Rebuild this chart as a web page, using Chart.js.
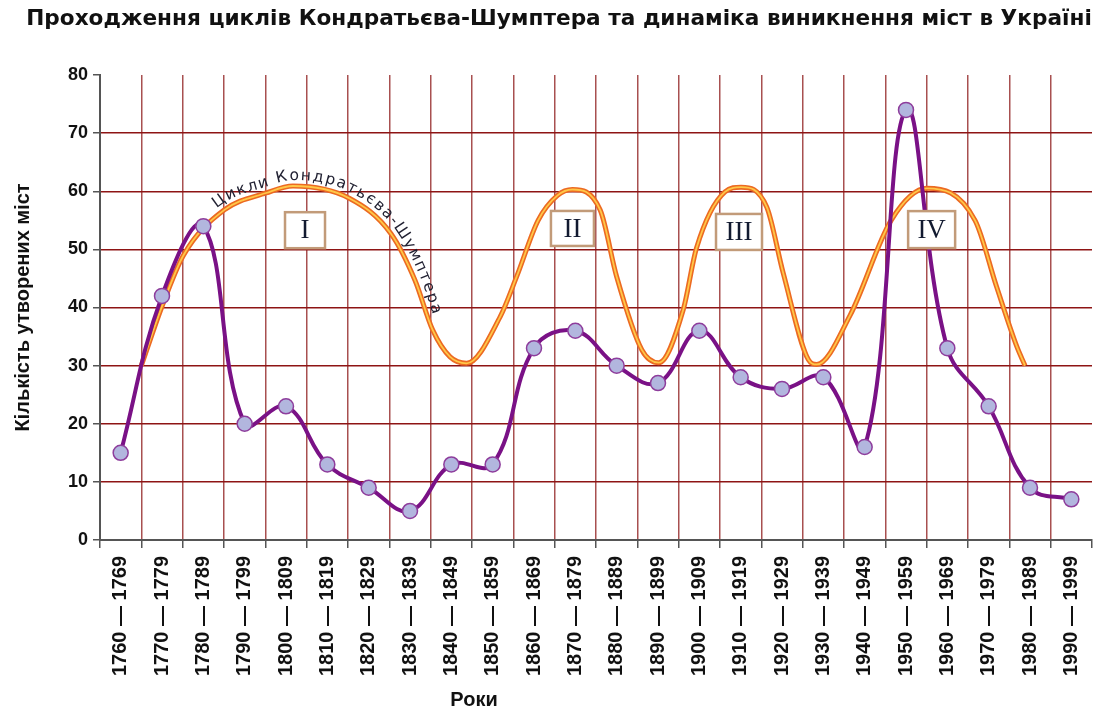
<!DOCTYPE html>
<html>
<head>
<meta charset="utf-8">
<script src="https://cdn.jsdelivr.net/npm/chart.js@4.4.1/dist/chart.umd.min.js"></script>
<style>
html,body{margin:0;padding:0;background:#fff;}
#wrap{width:1110px;height:713px;position:relative;}
</style>
</head>
<body>
<div id="wrap"><canvas id="c" width="1110" height="713"></canvas></div>
<script>
// ---------- DATA ----------
const periods = ['1760 — 1769','1770 — 1779','1780 — 1789','1790 — 1799','1800 — 1809','1810 — 1819',
  '1820 — 1829','1830 — 1839','1840 — 1849','1850 — 1859','1860 — 1869','1870 — 1879',
  '1880 — 1889','1890 — 1899','1900 — 1909','1910 — 1919','1920 — 1929','1930 — 1939',
  '1940 — 1949','1950 — 1959','1960 — 1969','1970 — 1979','1980 — 1989','1990 — 1999'];
const cityCounts = [15,42,54,20,23,13,9,5,13,13,33,36,30,27,36,28,26,28,16,74,33,23,9,7];

// Kondratiev–Schumpeter cycle curve (year, value)
const cycleYears  = [1770,1774.9,1780.2,1790.1,1800.2,1806.7,1820.3,1830.4,1836.2,1840.5,1844.7,1848.7,
  1856.8,1860.8,1866.0,1870.7,1874.3,1881.0,1885.0,1891.1,1895.2,1901.1,1904.3,1911.2,1915.1,
  1921.3,1925.3,1931.4,1933.4,1941.5,1951.4,1960.0,1971.7,1976.9,1981.8,1983.8];
const cycleValues = [30,40,49,56.8,59.7,60.9,58.8,52.7,44.7,36.1,31.5,30.4,
  38.4,45.3,55,59.3,60.3,56.8,45.3,32.7,30.5,39.6,50.2,59.9,60.7,
  57.3,45.9,31,30.2,38.7,55,60.5,55,43.6,33.3,30];

const yTickValues = [0,10,20,30,40,50,60,70,80];
const cycleNames = ['I','II','III','IV'];
const cycleBoxYears = [1809.6,1874.3,1914.6,1961.2];
const cycleBoxValues = [53.3,53.6,53.0,53.4];

const titleText = 'Проходження циклів Кондратьєва-Шумптера та динаміка виникнення міст в Україні';
const yTitle = 'Кількість утворених міст';
const xTitle = 'Роки';
const arcText = 'Цикли Кондратьєва-Шумптера';

// ---------- HELPERS ----------
const cycleData = cycleYears.map((x,i)=>({x:x, y:cycleValues[i]}));

// fit title width
const mc = document.createElement('canvas').getContext('2d');
mc.font = 'bold 20px "DejaVu Sans"';
const titleSize = Math.min(23, 20*1066/mc.measureText(titleText).width);

const overlay = {
  id:'overlay',
  afterLayout(chart){
    if (chart.titleBlock){ chart.titleBlock.left += 13; chart.titleBlock.right += 13; }
  },
  afterDatasetsDraw(chart){
    const ctx = chart.ctx;
    const xs = chart.scales.x2, ys = chart.scales.y;
    // ---- curved text along cycle I ----
    const pts = chart.getDatasetMeta(2).data;
    const poly = [];
    for (let i=0;i<pts.length-1;i++){
      const a=pts[i], b=pts[i+1];
      const c1x=a.cp2x??a.x, c1y=a.cp2y??a.y, c2x=b.cp1x??b.x, c2y=b.cp1y??b.y;
      for (let k=0;k<20;k++){
        const t=k/20, m=1-t;
        poly.push({x:m*m*m*a.x+3*m*m*t*c1x+3*m*t*t*c2x+t*t*t*b.x,
                   y:m*m*m*a.y+3*m*m*t*c1y+3*m*t*t*c2y+t*t*t*b.y});
      }
    }
    poly.push({x:pts[pts.length-1].x,y:pts[pts.length-1].y});
    const d = 6;
    const off = poly.map((p,i)=>{
      const p0=poly[Math.max(0,i-1)], p1=poly[Math.min(poly.length-1,i+1)];
      let tx=p1.x-p0.x, ty=p1.y-p0.y; const L=Math.hypot(tx,ty)||1; tx/=L; ty/=L;
      return {x:p.x+d*ty, y:p.y-d*tx};
    });
    const cum=[0];
    for (let i=1;i<off.length;i++) cum.push(cum[i-1]+Math.hypot(off[i].x-off[i-1].x, off[i].y-off[i-1].y));
    let iS=off.findIndex(p=>p.x>=215);
    let peakI=iS; for(let i=iS;i<off.length && off[i].x<480;i++){ if(off[i].y<off[peakI].y) peakI=i; }
    let iE=peakI; while(iE<off.length-1 && off[iE].y<314) iE++;
    const sS=cum[iS], sE=cum[iE];
    ctx.save();
    ctx.font='15.5px "DejaVu Sans"';
    ctx.fillStyle='#222233';
    ctx.textAlign='center'; ctx.textBaseline='alphabetic';
    const chars=[...arcText];
    const ws=chars.map(c=>ctx.measureText(c).width);
    const tot=ws.reduce((a,b)=>a+b,0);
    const sp=(sE-sS-tot)/(chars.length-1);
    const at=(s)=>{
      let j=1; while(j<cum.length-1 && cum[j]<s) j++;
      const f=(s-cum[j-1])/((cum[j]-cum[j-1])||1);
      return {x:off[j-1].x+f*(off[j].x-off[j-1].x), y:off[j-1].y+f*(off[j].y-off[j-1].y),
              a:Math.atan2(off[j].y-off[j-1].y, off[j].x-off[j-1].x)};
    };
    let s=sS;
    chars.forEach((c,i)=>{
      const p=at(s+ws[i]/2);
      ctx.save(); ctx.translate(p.x,p.y); ctx.rotate(p.a); ctx.fillText(c,0,0); ctx.restore();
      s+=ws[i]+sp;
    });
    ctx.restore();
    // ---- boxes ----
    const bw=[40,43,46,47], bh=[36,35,36,37];
    ctx.save();
    cycleNames.forEach((n,i)=>{
      const cx=xs.getPixelForValue(cycleBoxYears[i]), cy=ys.getPixelForValue(cycleBoxValues[i]);
      ctx.fillStyle='#ffffff';
      ctx.fillRect(cx-bw[i]/2, cy-bh[i]/2, bw[i], bh[i]);
      ctx.strokeStyle='#c29b79'; ctx.lineWidth=2.5;
      ctx.strokeRect(cx-bw[i]/2, cy-bh[i]/2, bw[i], bh[i]);
      ctx.fillStyle='#121a30';
      ctx.font='27px "Liberation Serif"';
      ctx.textAlign='center'; ctx.textBaseline='middle';
      ctx.fillText(n, cx, cy+1);
    });
    ctx.restore();
  },
  afterDraw(chart){
    const ctx=chart.ctx;
    ctx.save();
    ctx.font='bold 20px "Liberation Sans"';
    ctx.fillStyle='#111';
    ctx.textAlign='center'; ctx.textBaseline='middle';
    ctx.fillText(xTitle, 474, 700);
    ctx.restore();
  }
};

new Chart(document.getElementById('c'), {
  type:'line',
  data:{
    labels: periods,
    datasets:[
      {label:'Кількість утворених міст', data:cityCounts, xAxisID:'x', yAxisID:'y',
       borderColor:'#7a1186', borderWidth:4, tension:0.4,
       pointRadius:7.5, pointBackgroundColor:'#b2b6de', pointBorderColor:'#8e3d9c', pointBorderWidth:1.5,
       order:0},
      {label:'Цикли (inner)', data:cycleData, xAxisID:'x2', yAxisID:'y',
       borderColor:'#ffc848', borderWidth:1.8, cubicInterpolationMode:'monotone', pointRadius:0, order:1},
      {label:'Цикли Кондратьєва-Шумптера', data:cycleData, xAxisID:'x2', yAxisID:'y',
       borderColor:'#ec6a22', borderWidth:5, cubicInterpolationMode:'monotone', pointRadius:0, order:2}
    ]
  },
  options:{
    responsive:false, animation:false, devicePixelRatio:1,
    layout:{padding:{left:0,right:18,top:0,bottom:0}},
    plugins:{
      legend:{display:false}, tooltip:{enabled:false},
      title:{display:true, text:titleText, color:'#111',
        font:{family:'"DejaVu Sans"', weight:'bold', size:titleSize, lineHeight:1.2},
        padding:{top:6, bottom:75-6-titleSize*1.2}}
    },
    scales:{
      x:{type:'category', offset:true,
        grid:{offset:true, lineWidth:1.5, tickLength:8, tickColor:'#555',
          color:c=>(c.type==='tick' && c.index>0)?'#a85050':'rgba(0,0,0,0)'},
        border:{color:'#555', width:2},
        ticks:{autoSkip:false, maxRotation:90, minRotation:90, padding:8, color:'#111',
          font:{family:'"Liberation Sans"', weight:'bold', size:20}},
        afterFit:s=>{s.height=173;}
      },
      x2:{type:'linear', display:false, min:1760, max:2000},
      y:{min:0, max:80,
        afterBuildTicks:s=>{s.ticks=yTickValues.map(v=>({value:v}));},
        grid:{lineWidth:1.5, tickLength:7, tickColor:'#555',
          color:c=>(c.tick && (c.tick.value===0 || c.tick.value===80))?'rgba(0,0,0,0)':'#8e1414'},
        border:{color:'#555', width:2},
        ticks:{padding:5, color:'#111', font:{family:'"Liberation Sans"', weight:'bold', size:18}},
        title:{display:true, text:yTitle, color:'#111', padding:{top:11,bottom:0},
          font:{family:'"Liberation Sans"', weight:'bold', size:20}},
        afterFit:s=>{s.width=100;}
      }
    }
  },
  plugins:[overlay]
});
</script>
</body>
</html>
